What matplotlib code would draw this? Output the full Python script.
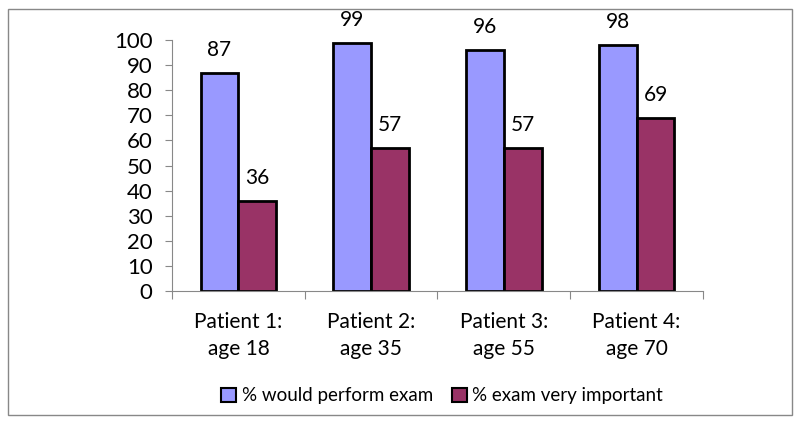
import numpy as np
import matplotlib.pyplot as plt
from matplotlib.patches import Rectangle, Patch

plt.rcParams['font.family'] = ['Lato', 'DejaVu Sans']

categories = ['Patient 1:\nage 18', 'Patient 2:\nage 35', 'Patient 3:\nage 55', 'Patient 4:\nage 70']
would_perform = [87, 99, 96, 98]
very_important = [36, 57, 57, 69]
series_names = ['% would perform exam', '% exam very important']

blue = '#9999FF'
red = '#993366'

fig = plt.figure(figsize=(8, 4.24), dpi=100)
fig.patches.append(Rectangle((8 / 800, 9 / 424), 784 / 800, 406 / 424, transform=fig.transFigure,
                             fill=False, edgecolor='#888888', linewidth=1))
ax = fig.add_axes([172 / 800, 1 - 291 / 424, 531 / 800, 251 / 424])

x = np.arange(len(categories))
w = 0.285
b1 = ax.bar(x - w / 2, would_perform, w, color=blue, edgecolor='black', linewidth=2)
b2 = ax.bar(x + w / 2, very_important, w, color=red, edgecolor='black', linewidth=2)
for bars, vals in ((b1, would_perform), (b2, very_important)):
    for rect, v in zip(bars, vals):
        ax.text(rect.get_x() + rect.get_width() / 2, v + 5, str(v), ha='center', va='bottom', fontsize=15)

ax.set_xlim(-0.5, 3.5)
ax.set_ylim(0, 100)
ax.set_yticks(range(0, 101, 10))
ax.tick_params(axis='y', labelsize=16, length=5, color='#888888', pad=9)
ax.set_xticks(np.arange(-0.5, 4, 1))
ax.set_xticklabels([])
ax.set_xticks(x, minor=True)
ax.set_xticklabels(categories, minor=True, fontsize=15, linespacing=1.45)
ax.tick_params(axis='x', which='major', length=6, color='#888888')
ax.tick_params(axis='x', which='minor', length=0, pad=15)
for s in ('top', 'right'):
    ax.spines[s].set_visible(False)
for s in ('left', 'bottom'):
    ax.spines[s].set_color('#888888')

handles = [Patch(facecolor=blue, edgecolor='black', linewidth=1.5),
           Patch(facecolor=red, edgecolor='black', linewidth=1.5)]
fig.legend(handles, series_names, loc='center', bbox_to_anchor=(442 / 800, 1 - 396 / 424), ncol=2,
           frameon=False, fontsize=13.5, handlelength=0.8, handleheight=0.8, handletextpad=0.3, columnspacing=1.0)

fig.savefig('out.png', dpi=100)
